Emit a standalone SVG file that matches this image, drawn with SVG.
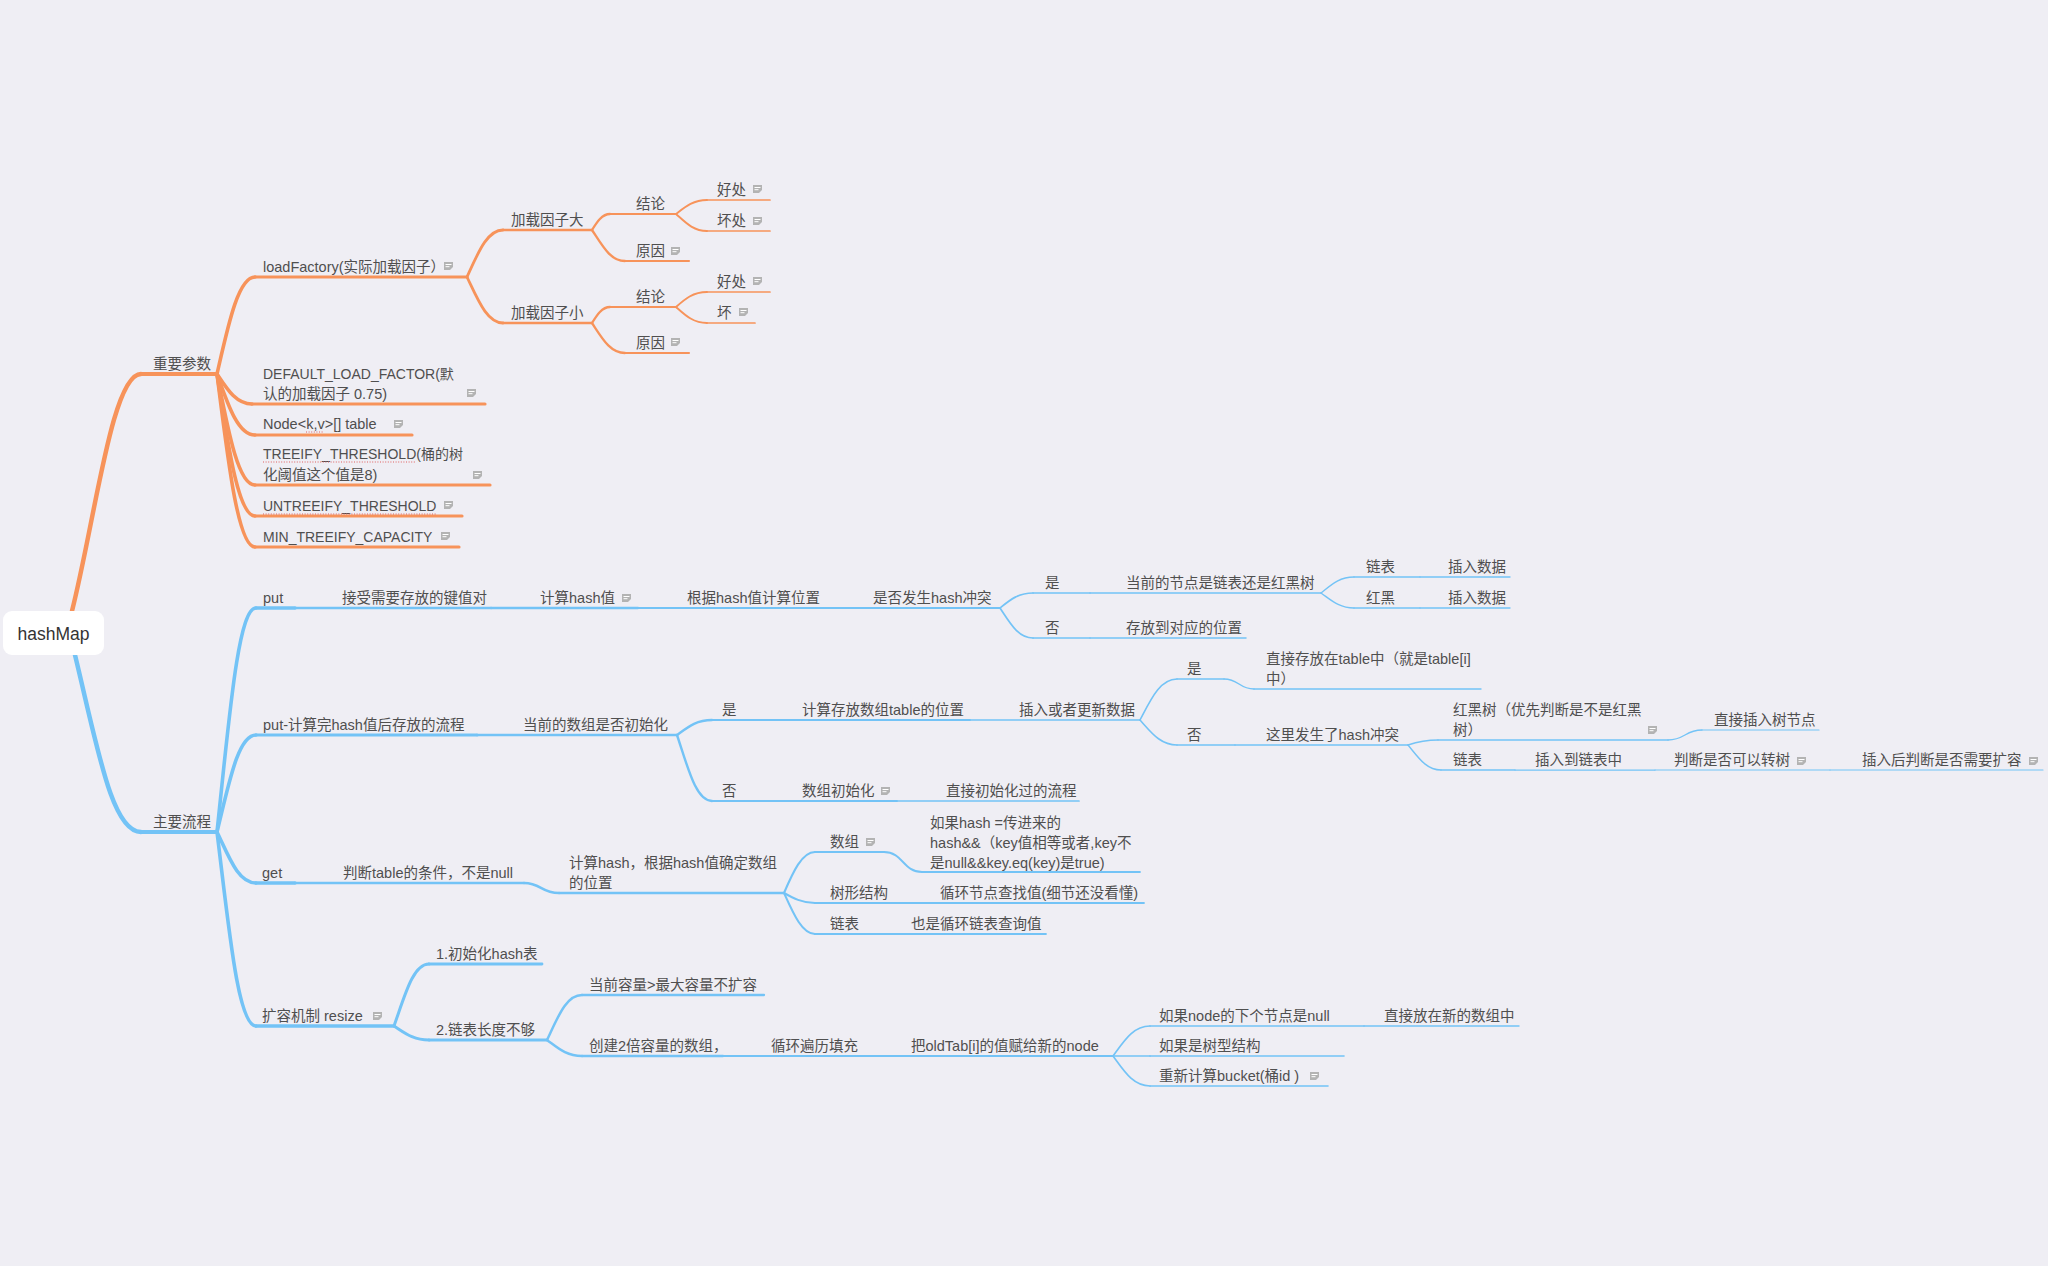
<svg xmlns="http://www.w3.org/2000/svg" xmlns:xlink="http://www.w3.org/1999/xlink" width="2048" height="1266" viewBox="0 0 2048 1266">
<defs>
<style>
.o{stroke:#F7935A;fill:none;stroke-linecap:round;stroke-linejoin:round}
.b{stroke:#73C3F6;fill:none;stroke-linecap:round;stroke-linejoin:round}
text{font-family:"Liberation Sans","Noto Sans CJK SC",sans-serif;font-size:14.5px;fill:#4f4f4f}
text.caps{font-size:14px}
.root{font-size:17.5px;fill:#333;text-anchor:middle}
.spell{stroke:#e06060;stroke-width:1.2;stroke-dasharray:1 1.6;fill:none}
</style>
<symbol id="note" viewBox="0 0 9 8" width="9" height="8">
<path d="M0,0H9V5L6,8H0Z" fill="#b3b3b3"/>
<path d="M1.5,2.5H7.5M1.5,4.7H5.5" stroke="#fff" stroke-width="1"/>
</symbol>
</defs>
<rect width="2048" height="1266" fill="#EFEEF4"/>

<!-- connectors: curved branches between parent and child -->
<g id="connectors">
<path class="o" stroke-width="4.5" d="M72,611C95,520 112,374 141,374"/>
<path class="b" stroke-width="4.5" d="M75,655C98,750 112,832 141,832"/>
<!-- orange: 重要参数 -->
<path class="o" stroke-width="3.6" d="M217,374C228,326 238,277 255,277"/>
<path class="o" stroke-width="3.6" d="M217,374C227,389 236,404 252,404"/>
<path class="o" stroke-width="3.6" d="M217,374C228,405 238,435 255,435"/>
<path class="o" stroke-width="3.6" d="M217,374C228,430 238,485 255,485"/>
<path class="o" stroke-width="3.6" d="M217,374C228,445 238,516 255,516"/>
<path class="o" stroke-width="3.6" d="M217,374C228,461 238,547 255,547"/>
<path class="o" stroke-width="2.8" d="M467,277C478,253 487,230 503,230"/>
<path class="o" stroke-width="2.8" d="M467,277C478,300 487,323 503,323"/>
<path class="o" stroke-width="2.3" d="M592,230C597,222 602,214 610,214"/>
<path class="o" stroke-width="2.3" d="M592,230C602,245 610,261 625,261"/>
<path class="o" stroke-width="2.3" d="M592,323C597,315 602,307 610,307"/>
<path class="o" stroke-width="2.3" d="M592,323C602,338 610,353 625,353"/>
<path class="o" stroke-width="1.9" d="M676,214C685,207 693,200 707,200"/>
<path class="o" stroke-width="1.9" d="M676,214C685,222 693,231 707,231"/>
<path class="o" stroke-width="1.9" d="M676,307C685,299 693,292 707,292"/>
<path class="o" stroke-width="1.9" d="M676,307C685,315 693,323 707,323"/>
<!-- blue: 主要流程 -->
<path class="b" stroke-width="3.6" d="M217,832C229,720 238,608 256,608"/>
<path class="b" stroke-width="3.6" d="M217,832C229,783 238,735 256,735"/>
<path class="b" stroke-width="3.6" d="M217,832C229,857 238,883 256,883"/>
<path class="b" stroke-width="3.6" d="M217,832C229,929 238,1026 256,1026"/>
<!-- put -->
<path class="b" stroke-width="1.7" d="M1000,608C1010,600 1018,593 1033,593"/>
<path class="b" stroke-width="1.7" d="M1000,608C1010,623 1018,638 1033,638"/>
<path class="b" stroke-width="1.4" d="M1321,593C1331,585 1339,577 1354,577"/>
<path class="b" stroke-width="1.4" d="M1321,593C1331,600 1339,608 1354,608"/>
<!-- put: store flow -->
<path class="b" stroke-width="2.4" d="M677,735C688,727 696,720 712,720"/>
<path class="b" stroke-width="2.4" d="M677,735C688,768 696,801 712,801"/>
<path class="b" stroke-width="1.6" d="M1140,720C1151,699 1160,679 1177,679"/>
<path class="b" stroke-width="1.6" d="M1140,720C1151,732 1160,745 1177,745"/>
<path class="b" stroke-width="1.5" d="M1224,679C1239,679 1239,689 1254,689"/>
<path class="b" stroke-width="1.4" d="M1408,745C1417,742 1424,740 1438,740"/>
<path class="b" stroke-width="1.4" d="M1408,745C1418,757 1426,770 1441,770"/>
<path class="b" stroke-width="1.3" d="M1668,740C1685,740 1685,730 1702,730"/>
<!-- get -->
<path class="b" stroke-width="2.6" d="M524,883C541,883 541,893 559,893"/>
<path class="b" stroke-width="2.1" d="M784,893C793,872 802,852 815,852"/>
<path class="b" stroke-width="2.1" d="M784,893C793,898 802,903 815,903"/>
<path class="b" stroke-width="2.1" d="M784,893C793,913 802,934 815,934"/>
<path class="b" stroke-width="1.9" d="M884,852C903,852 903,872 922,872"/>
<!-- resize -->
<path class="b" stroke-width="3" d="M394,1026C405,995 413,964 429,964"/>
<path class="b" stroke-width="3" d="M394,1026C405,1033 413,1040 429,1040"/>
<path class="b" stroke-width="2.5" d="M547,1040C558,1017 566,995 582,995"/>
<path class="b" stroke-width="2.5" d="M547,1040C558,1048 566,1056 582,1056"/>
<path class="b" stroke-width="1.7" d="M1113,1056C1124,1041 1133,1026 1150,1026"/>
<path class="b" stroke-width="1.7" d="M1113,1056H1150"/>
<path class="b" stroke-width="1.7" d="M1113,1056C1124,1071 1133,1086 1150,1086"/>
</g>

<!-- root -->
<g id="n-root">
<rect x="3" y="611" width="101" height="44" rx="9" fill="#fff"/>
<text class="root" x="53.5" y="640">hashMap</text>
</g>

<!-- ===== 重要参数 ===== -->
<g id="n-params"><path class="o" stroke-width="4" d="M141,374H217"/><text x="153" y="369">重要参数</text></g>
<g id="n-loadfactor"><path class="o" stroke-width="3.2" d="M255,277H467"/><text x="263" y="272">loadFactory(实际加载因子）</text><use href="#note" x="444" y="262"/></g>
<g id="n-default"><path class="o" stroke-width="3.2" d="M252,404H485"/><text class="caps" x="263" y="379">DEFAULT_LOAD_FACTOR(默</text><text x="263" y="399">认的加载因子 0.75)</text><use href="#note" x="467" y="389"/></g>
<g id="n-nodetable"><path class="o" stroke-width="3.2" d="M255,435H412"/><text x="263" y="429">Node&lt;k,v&gt;[] table</text><path class="spell" d="M306,432H324"/><use href="#note" x="394" y="420"/></g>
<g id="n-treeify"><path class="o" stroke-width="3.2" d="M255,485H490"/><text class="caps" x="263" y="459">TREEIFY_THRESHOLD(桶的树</text><path class="spell" d="M263,462H416"/><text x="263" y="480">化阈值这个值是8)</text><use href="#note" x="473" y="471"/></g>
<g id="n-untreeify"><path class="o" stroke-width="3.2" d="M255,516H462"/><text class="caps" x="263" y="511">UNTREEIFY_THRESHOLD</text><path class="spell" d="M263,514H437"/><use href="#note" x="444" y="501"/></g>
<g id="n-mintreeify"><path class="o" stroke-width="3.2" d="M255,547H459"/><text class="caps" x="263" y="542">MIN_TREEIFY_CAPACITY</text><use href="#note" x="441" y="532"/></g>
<g id="n-big"><path class="o" stroke-width="2.6" d="M503,230H592"/><text x="511" y="225">加载因子大</text></g>
<g id="n-small"><path class="o" stroke-width="2.6" d="M503,323H592"/><text x="511" y="318">加载因子小</text></g>
<g id="n-big-concl"><path class="o" stroke-width="2.1" d="M610,214H676"/><text x="636" y="209">结论</text></g>
<g id="n-big-reason"><path class="o" stroke-width="2.1" d="M625,261H689"/><text x="636" y="256">原因</text><use href="#note" x="671" y="247"/></g>
<g id="n-big-good"><path class="o" stroke-width="1.7" d="M707,200H770"/><text x="717" y="195">好处</text><use href="#note" x="753" y="185"/></g>
<g id="n-big-bad"><path class="o" stroke-width="1.7" d="M707,231H770"/><text x="717" y="226">坏处</text><use href="#note" x="753" y="217"/></g>
<g id="n-small-concl"><path class="o" stroke-width="2.1" d="M610,307H676"/><text x="636" y="302">结论</text></g>
<g id="n-small-reason"><path class="o" stroke-width="2.1" d="M625,353H689"/><text x="636" y="348">原因</text><use href="#note" x="671" y="338"/></g>
<g id="n-small-good"><path class="o" stroke-width="1.7" d="M707,292H770"/><text x="717" y="287">好处</text><use href="#note" x="753" y="277"/></g>
<g id="n-small-bad"><path class="o" stroke-width="1.7" d="M707,323H755"/><text x="717" y="318">坏</text><use href="#note" x="739" y="308"/></g>

<!-- ===== 主要流程 ===== -->
<g id="n-flow"><path class="b" stroke-width="4" d="M141,832H217"/><text x="153" y="827">主要流程</text></g>

<!-- put -->
<g id="n-put"><path class="b" stroke-width="3.4" d="M256,608H295"/><text x="263" y="603">put</text></g>
<g id="n-put-recv"><path class="b" stroke-width="2.7" d="M295,608H491"/><text x="342" y="603">接受需要存放的键值对</text></g>
<g id="n-put-hash"><path class="b" stroke-width="2.3" d="M491,608H638"/><text x="540" y="603">计算hash值</text><use href="#note" x="622" y="594"/></g>
<g id="n-put-pos"><path class="b" stroke-width="2" d="M638,608H824"/><text x="687" y="603">根据hash值计算位置</text></g>
<g id="n-put-collide"><path class="b" stroke-width="1.8" d="M824,608H1000"/><text x="873" y="603">是否发生hash冲突</text></g>
<g id="n-put-yes"><path class="b" stroke-width="1.6" d="M1033,593H1090"/><text x="1045" y="588">是</text></g>
<g id="n-put-nodetype"><path class="b" stroke-width="1.5" d="M1090,593H1321"/><text x="1126" y="588">当前的节点是链表还是红黑树</text></g>
<g id="n-put-list"><path class="b" stroke-width="1.4" d="M1354,577H1420"/><text x="1366" y="572">链表</text></g>
<g id="n-put-list-ins"><path class="b" stroke-width="1.3" d="M1420,577H1510"/><text x="1448" y="572">插入数据</text></g>
<g id="n-put-rb"><path class="b" stroke-width="1.4" d="M1354,608H1420"/><text x="1366" y="603">红黑</text></g>
<g id="n-put-rb-ins"><path class="b" stroke-width="1.3" d="M1420,608H1510"/><text x="1448" y="603">插入数据</text></g>
<g id="n-put-no"><path class="b" stroke-width="1.6" d="M1033,638H1090"/><text x="1045" y="633">否</text></g>
<g id="n-put-store"><path class="b" stroke-width="1.5" d="M1090,638H1246"/><text x="1126" y="633">存放到对应的位置</text></g>

<!-- put: store after hash -->
<g id="n-store"><path class="b" stroke-width="3.2" d="M256,735H477"/><text x="263" y="730">put-计算完hash值后存放的流程</text></g>
<g id="n-store-init"><path class="b" stroke-width="2.6" d="M477,735H677"/><text x="523" y="730">当前的数组是否初始化</text></g>
<g id="n-store-yes"><path class="b" stroke-width="2.2" d="M712,720H754"/><text x="722" y="715">是</text></g>
<g id="n-store-calc"><path class="b" stroke-width="1.9" d="M754,720H970"/><text x="802" y="715">计算存放数组table的位置</text></g>
<g id="n-store-upsert"><path class="b" stroke-width="1.7" d="M970,720H1140"/><text x="1019" y="715">插入或者更新数据</text></g>
<g id="n-upsert-yes"><path class="b" stroke-width="1.5" d="M1177,679H1224"/><text x="1187" y="674">是</text></g>
<g id="n-upsert-direct"><path class="b" stroke-width="1.4" d="M1254,689H1481"/><text x="1266" y="664">直接存放在table中（就是table[i]</text><text x="1266" y="684">中）</text></g>
<g id="n-upsert-no"><path class="b" stroke-width="1.5" d="M1177,745H1235"/><text x="1187" y="740">否</text></g>
<g id="n-upsert-collide"><path class="b" stroke-width="1.4" d="M1235,745H1408"/><text x="1266" y="740">这里发生了hash冲突</text></g>
<g id="n-rbtree"><path class="b" stroke-width="1.3" d="M1438,740H1668"/><text x="1453" y="715">红黑树（优先判断是不是红黑</text><text x="1453" y="735">树）</text><use href="#note" x="1648" y="726"/></g>
<g id="n-rbtree-ins"><path class="b" stroke-width="1.2" d="M1702,730H1819"/><text x="1714" y="725">直接插入树节点</text></g>
<g id="n-list"><path class="b" stroke-width="1.3" d="M1441,770H1515"/><text x="1453" y="765">链表</text></g>
<g id="n-list-ins"><path class="b" stroke-width="1.25" d="M1515,770H1655"/><text x="1535" y="765">插入到链表中</text></g>
<g id="n-list-treeify"><path class="b" stroke-width="1.2" d="M1655,770H1830"/><text x="1674" y="765">判断是否可以转树</text><use href="#note" x="1797" y="757"/></g>
<g id="n-list-resize"><path class="b" stroke-width="1.15" d="M1830,770H2043"/><text x="1862" y="765">插入后判断是否需要扩容</text><use href="#note" x="2029" y="757"/></g>
<g id="n-store-no"><path class="b" stroke-width="2.2" d="M712,801H754"/><text x="722" y="796">否</text></g>
<g id="n-store-arrinit"><path class="b" stroke-width="1.9" d="M754,801H897"/><text x="802" y="796">数组初始化</text><use href="#note" x="881" y="787"/></g>
<g id="n-store-initflow"><path class="b" stroke-width="1.7" d="M897,801H1079"/><text x="946" y="796">直接初始化过的流程</text></g>

<!-- get -->
<g id="n-get"><path class="b" stroke-width="3.4" d="M256,883H295"/><text x="262" y="878">get</text></g>
<g id="n-get-check"><path class="b" stroke-width="2.7" d="M295,883H524"/><text x="343" y="878">判断table的条件，不是null</text></g>
<g id="n-get-hash"><path class="b" stroke-width="2.3" d="M559,893H784"/><text x="569" y="868">计算hash，根据hash值确定数组</text><text x="569" y="888">的位置</text></g>
<g id="n-get-arr"><path class="b" stroke-width="2" d="M815,852H884"/><text x="830" y="847">数组</text><use href="#note" x="866" y="838"/></g>
<g id="n-get-arr-cond"><path class="b" stroke-width="1.8" d="M922,872H1140"/><text x="930" y="828">如果hash =传进来的</text><text x="930" y="848">hash&amp;&amp;（key值相等或者,key不</text><text x="930" y="868">是null&amp;&amp;key.eq(key)是true)</text></g>
<g id="n-get-tree"><path class="b" stroke-width="2" d="M815,903H892"/><text x="830" y="898">树形结构</text></g>
<g id="n-get-tree-loop"><path class="b" stroke-width="1.8" d="M892,903H1144"/><text x="940" y="898">循环节点查找值(细节还没看懂)</text></g>
<g id="n-get-list"><path class="b" stroke-width="2" d="M815,934H865"/><text x="830" y="929">链表</text></g>
<g id="n-get-list-loop"><path class="b" stroke-width="1.8" d="M865,934H1046"/><text x="911" y="929">也是循环链表查询值</text></g>

<!-- resize -->
<g id="n-resize"><path class="b" stroke-width="3.4" d="M256,1026H394"/><text x="262" y="1021">扩容机制 resize</text><use href="#note" x="373" y="1012"/></g>
<g id="n-resize-init"><path class="b" stroke-width="2.8" d="M429,964H542"/><text x="436" y="959">1.初始化hash表</text></g>
<g id="n-resize-short"><path class="b" stroke-width="2.8" d="M429,1040H547"/><text x="436" y="1035">2.链表长度不够</text></g>
<g id="n-resize-max"><path class="b" stroke-width="2.3" d="M582,995H764"/><text x="589" y="990">当前容量&gt;最大容量不扩容</text></g>
<g id="n-resize-double"><path class="b" stroke-width="2.3" d="M582,1056H723"/><text x="589" y="1051">创建2倍容量的数组，</text></g>
<g id="n-resize-loop"><path class="b" stroke-width="2" d="M723,1056H865"/><text x="771" y="1051">循环遍历填充</text></g>
<g id="n-resize-assign"><path class="b" stroke-width="1.8" d="M865,1056H1113"/><text x="911" y="1051">把oldTab[i]的值赋给新的node</text></g>
<g id="n-assign-null"><path class="b" stroke-width="1.6" d="M1150,1026H1364"/><text x="1159" y="1021">如果node的下个节点是null</text></g>
<g id="n-assign-null-direct"><path class="b" stroke-width="1.4" d="M1364,1026H1519"/><text x="1384" y="1021">直接放在新的数组中</text></g>
<g id="n-assign-tree"><path class="b" stroke-width="1.6" d="M1150,1056H1344"/><text x="1159" y="1051">如果是树型结构</text></g>
<g id="n-assign-bucket"><path class="b" stroke-width="1.6" d="M1150,1086H1328"/><text x="1159" y="1081">重新计算bucket(桶id )</text><use href="#note" x="1310" y="1072"/></g>
</svg>
